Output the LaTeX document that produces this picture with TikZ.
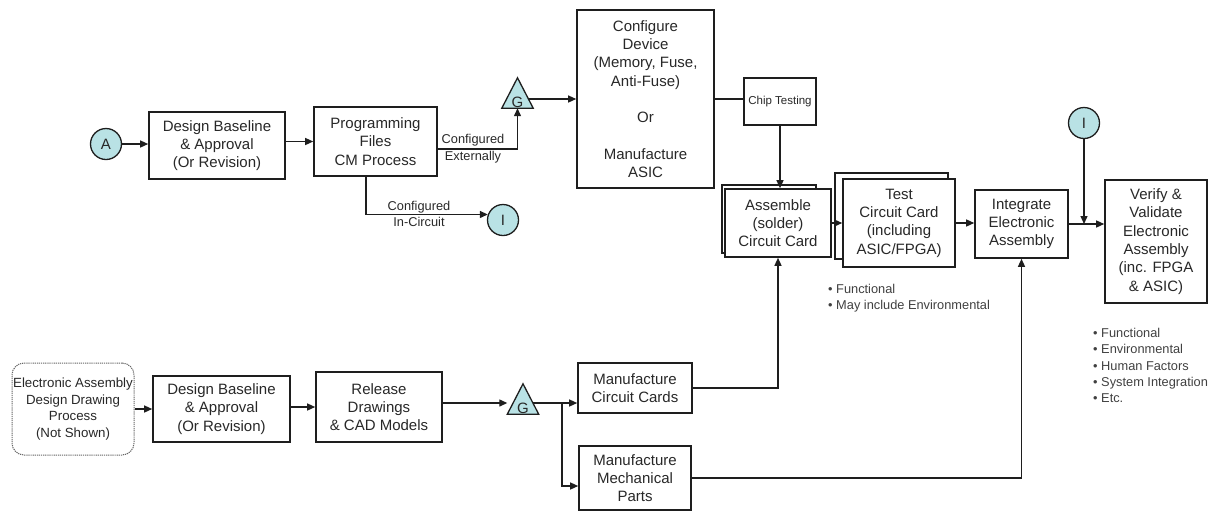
\documentclass[tikz,border=0pt]{standalone}
\usepackage{fontspec}
\setmainfont{Liberation Sans}
\usetikzlibrary{arrows.meta,calc}
\definecolor{cfill}{RGB}{185,226,229}
\definecolor{ink}{RGB}{30,30,30}
\definecolor{txt}{RGB}{40,40,40}
\newcommand{\fmain}{\fontsize{15}{18.3}\selectfont}
\newcommand{\fsmallx}{\fontsize{12.8}{16.5}\selectfont}
\newcommand{\fchipx}{\fontsize{11.5}{14}\selectfont}
\newcommand{\fdashx}{\fontsize{13.3}{16.7}\selectfont}
\newcommand{\fbul}{\fontsize{12.8}{16.3}\selectfont}
\begin{document}
\begin{tikzpicture}[x=1pt,y=-1pt,
  box/.style={draw=ink, line width=1.6pt, fill=white, align=center, inner sep=0pt, font=\fmain, text=txt},
  dbox/.style={draw=black!60, line width=1pt, dash pattern=on 1.2pt off 0.9pt, rounded corners=12pt, fill=white, align=center, inner sep=0pt, font=\fdashx, text=txt},
  circ/.style={circle, draw=ink, line width=1.3pt, fill=cfill, minimum size=31pt, inner sep=0pt, font=\fmain, text=txt},
  gbox/.style={draw=none, minimum width=31pt, minimum height=30pt, inner sep=0pt},
  tri/.style={draw=ink, line width=1.3pt, fill=cfill, line join=miter},
  gl/.style={font=\fmain, text=txt, inner sep=0pt},
  lbl/.style={font=\fsmallx, text=txt, align=center, inner sep=0pt},
  bul/.style={font=\fbul, text=black!75, align=left, inner sep=0pt},
  conn/.style={draw=ink, line width=1.3pt},
  arr/.style={conn, -{Triangle[length=8pt,width=7pt]}}
]
\useasboundingbox (0,0) rectangle (1218,512);

% upper row
\node[circ] (a) at (106,144) {A};
\node[box, minimum width=136pt, minimum height=67pt] (b1) at (217,145.5) {Design Baseline\\\& Approval\\(Or Revision)};
\node[box, minimum width=123pt, minimum height=69pt] (prog) at (375.5,141.5) {Programming\\Files\\CM Process};
\node[gbox] (g1) at (517.5,93) {};
\node[box, minimum width=137pt, minimum height=178pt] (cfg) at (645.5,99) {Configure\\Device\\(Memory, Fuse,\\Anti-Fuse)\\[18.3pt]Or\\[18.3pt]Manufacture\\ASIC};
\node[box, font=\fchipx, minimum width=72pt, minimum height=47pt] (chip) at (780,101.5) {Chip Testing};
\node[circ] (i1) at (503,220) {I};
\node[box, minimum width=94pt, minimum height=68pt] (asmb) at (769,219) {};
\node[box, minimum width=106pt, minimum height=68pt] (asm) at (778,223) {Assemble\\(solder)\\Circuit Card};
\node[box, minimum width=113pt, minimum height=86pt] (testb) at (891.5,216) {};
\node[box, minimum width=112pt, minimum height=88pt] (test) at (899,223) {Test\\Circuit Card\\(including\\ASIC/FPGA)};
\node[box, minimum width=93pt, minimum height=68pt] (integ) at (1021.5,224) {Integrate\\Electronic\\Assembly};
\node[box, minimum width=102pt, minimum height=123pt] (ver) at (1156,241.5) {Verify \&\\Validate\\Electronic\\Assembly\\(inc. FPGA\\\& ASIC)};
\node[circ] (i2) at (1084,123) {I};

% lower row
\node[dbox, minimum width=122pt, minimum height=92pt] (dsn) at (73,409) {Electronic Assembly\\Design Drawing\\Process\\(Not Shown)};
\node[box, minimum width=137pt, minimum height=66pt] (b2) at (221.5,409) {Design Baseline\\\& Approval\\(Or Revision)};
\node[box, minimum width=126pt, minimum height=70pt] (rel) at (379,407) {Release\\Drawings\\\& CAD Models};
\node[gbox] (g2) at (523,399) {};
\node[box, minimum width=114pt, minimum height=50pt] (mcc) at (635,388) {Manufacture\\Circuit Cards};
\node[box, minimum width=112pt, minimum height=64pt] (mech) at (635,478) {Manufacture\\Mechanical\\Parts};
\coordinate (br) at (562,403);

% labels and notes
\node[lbl] (ce) at (473,148.5) {Configured\\Externally};
\node[lbl] (ci) at (419,214) {Configured\\In-Circuit};
\node[bul, anchor=west] (bl1) at (828,298.5) {\textbullet\ Functional\\\textbullet\ May include Environmental};
\node[bul, anchor=west] (bl2) at (1093,365.5) {\textbullet\ Functional\\\textbullet\ Environmental\\\textbullet\ Human Factors\\\textbullet\ System Integration\\\textbullet\ Etc.};

% connectors
\draw[arr] (a.east) -- (a.east -| b1.west);
\draw[arr] (b1.east |- prog.west) -- (prog.west);
\draw[arr] ([yshift=-7.5pt]prog.east) -| (g1.south);
\draw[arr] ([xshift=-9.5pt]prog.south) |- (i1.160);
\draw[arr] (g1.center |- cfg.west) -- (cfg.west);
\draw[conn] (cfg.east) -- (cfg.east -| chip.west);
\draw[arr] (chip.south) -- (chip.south |- asm.north);
\draw[arr] (asm.east) -- (asm.east -| test.west);
\draw[arr] (test.east) -- (test.east -| integ.west);
\draw[arr] (integ.east) -- (integ.east -| ver.west);
\draw[arr] (i2.south) -- (i2.south |- integ.east);

\draw[arr] (dsn.east) -- (dsn.east -| b2.west);
\draw[arr] (b2.east |- rel.west) -- (rel.west);
\draw[arr] ([yshift=-4pt]g2.west -| rel.east) -- ([yshift=-4pt]g2.west);
\draw[arr] ([yshift=-4pt]g2.center) -- ([yshift=-4pt]g2.center -| mcc.west);
\draw[arr] (br) |- ([yshift=-8pt]mech.west);
\draw[arr] (mcc.east) -| (asm.south);
\draw[arr] (mech.east) -| (integ.south);

% triangles
\draw[tri] (g1.south west) -- (g1.north) -- (g1.south east) -- cycle;
\node[gl, anchor=base] (g1t) at ([yshift=0.5pt]g1.south) {G};
\draw[tri] (g2.south west) -- (g2.north) -- (g2.south east) -- cycle;
\node[gl, anchor=base] (g2t) at ([yshift=0.5pt]g2.south) {G};
\end{tikzpicture}
\end{document}
